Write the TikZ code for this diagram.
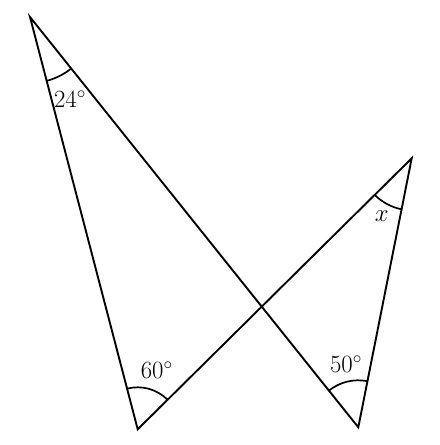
\documentclass[tikz,border=0pt]{standalone}
\usetikzlibrary{angles}

\begin{document}
\begin{tikzpicture}[
        x=1bp, y=1bp,
        line width=1.9bp,
        line join=miter,
        side/.style={draw, black},
        mark arc/.style={draw, black, line width=1.7bp},
        angle label/.style={font=\fontsize{24}{28}\selectfont, inner sep=0pt},
    ]
    \useasboundingbox (0, 0) rectangle (440, 445);

    % corners of the two triangles
    \coordinate (A) at (30, 428);
    \coordinate (B) at (137.7, 15.7);
    \coordinate (C) at (358.3, 17.7);
    \coordinate (D) at (411.7, 286.7);

    % sides
    \draw[side] (A) -- (B) -- (D) -- (C) -- cycle;

    % angle marks
    \pic[mark arc, angle radius=66bp] {angle = B--A--C};
    \pic[mark arc, angle radius=42bp] {angle = D--B--A};
    \pic[mark arc, angle radius=47bp] {angle = D--C--A};
    \pic[mark arc, angle radius=52bp] {angle = B--D--C};

    % labels
    \node[angle label] (lblA) at (70, 346) {$24^\circ$};
    \node[angle label] (lblB) at (156.7, 75) {$60^\circ$};
    \node[angle label] (lblC) at (346, 80.7) {$50^\circ$};
    \node[angle label] (lblD) at (381.7, 229) {$x$};
\end{tikzpicture}
\end{document}
